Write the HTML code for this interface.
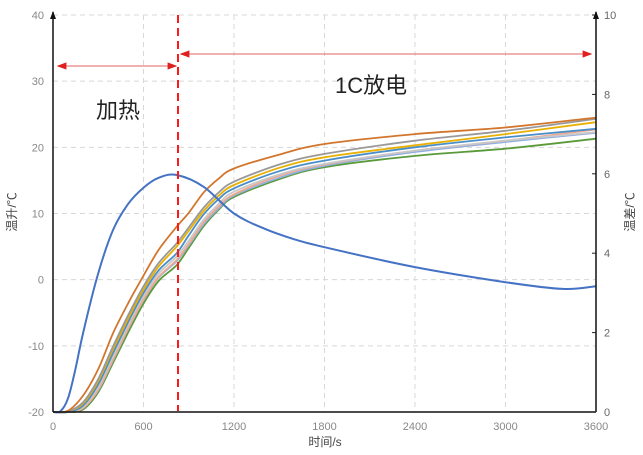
<!DOCTYPE html>
<html><head><meta charset="utf-8">
<style>
html,body{margin:0;padding:0;background:#fff;}
svg{display:block;font-family:"Liberation Sans","Noto Sans CJK SC",sans-serif;}
</style></head>
<body>
<svg id="chart" width="643" height="455" viewBox="0 0 643 455">
<defs>
<marker id="arr" markerWidth="8" markerHeight="8" refX="7" refY="4" orient="auto-start-reverse"><path d="M0,1 L8,4 L0,7 z" fill="#e02020"/></marker>
</defs>
<g id="grid"></g>
<g id="series"></g>
<g id="axes"></g>
<line x1="178" y1="15" x2="178" y2="411" stroke="#ff1a1a" stroke-width="2" stroke-dasharray="8,5"/>
<line x1="58" y1="66" x2="176" y2="66" stroke="#e88080" stroke-width="1.2" marker-start="url(#arr)" marker-end="url(#arr)"/>
<line x1="181" y1="54" x2="591" y2="54" stroke="#e88080" stroke-width="1.2" marker-start="url(#arr)" marker-end="url(#arr)"/>
<text x="96" y="118" font-size="22" fill="#222">加热</text>
<text x="335" y="93" font-size="22" fill="#222">1C放电</text>
<text transform="translate(16,212) rotate(-90)" text-anchor="middle" font-size="12" fill="#444">温升/℃</text>
<text transform="translate(634,212) rotate(-90)" text-anchor="middle" font-size="12" fill="#444">温差/℃</text>
<text x="325" y="446" text-anchor="middle" font-size="12" fill="#444">时间/s</text>
</svg>
<script>
const times=[0,100,200,300,400,500,600,700,820,900,1000,1100,1200,1500,1800,2400,3000,3600];
const orange=[-20,-19.8,-17.5,-13.5,-8,-3.5,0.6,4.5,8,10.1,13.2,15.3,16.8,18.9,20.5,22,23,24.5];
const gray=[-20,-19.9,-18.5,-15,-10,-5.3,-1,2.5,5.5,7.9,10.9,13.2,14.8,17.4,19,21,22.5,24.3];
const yellow=[-20,-19.9,-18.7,-15.3,-10.4,-5.8,-1.5,2,5,7.4,10.4,12.7,14.3,16.9,18.5,20.3,22,23.8];
const steel=[-20,-20,-19,-15.8,-11,-6.3,-2,1.4,4,6.7,9.9,12.2,13.8,16.4,18,20,21.5,22.8];
const lightgray=[-20,-20,-19.2,-16.2,-11.5,-6.8,-2.5,0.9,3.5,5.9,9.1,11.5,13.3,15.9,17.5,19.5,21,22.3];
const salmon=[-20,-20,-19.4,-16.6,-12,-7.3,-3,0.4,3,5.4,8.7,11.1,12.9,15.7,17.4,19.5,21,22.7];
const lightblue=[-20,-20,-19.4,-16.7,-12.1,-7.4,-3.1,0.3,2.8,5.2,8.4,10.8,12.7,15.4,17.2,19.3,20.8,22.2];
const green=[-20,-20,-19.6,-17,-12.5,-7.9,-3.6,-0.2,2.2,4.8,8.1,10.6,12.5,15.2,17,18.7,19.8,21.3];
const diffTimes=[0,50,100,150,200,300,400,500,600,700,820,1000,1200,1400,1600,1800,2400,3000,3380,3600];
const diffVals=[0,0.02,0.35,1.1,2.0,3.5,4.6,5.25,5.65,5.9,5.97,5.67,5.0,4.62,4.35,4.15,3.65,3.27,3.1,3.17];
const xTicks=[0,600,1200,1800,2400,3000,3600];
const yTicks=[-20,-10,0,10,20,30,40];
const y2Ticks=[0,2,4,6,8,10];
const X0=53,X1=596,Y0=412,Y1=15;
const xs=t=>X0+(t/3600)*(X1-X0);
const ys=v=>Y0-((v+20)/60)*(Y0-Y1);
const ys2=v=>Y0-(v/10)*(Y0-Y1);
const NS="http://www.w3.org/2000/svg";
function mk(tag,attrs,parent){const e=document.createElementNS(NS,tag);for(const k in attrs)e.setAttribute(k,attrs[k]);parent.appendChild(e);return e;}
const grid=document.getElementById('grid'),axes=document.getElementById('axes'),ser=document.getElementById('series');
xTicks.forEach(t=>{if(t>0&&t<3600){const l=mk('line',{x1:xs(t),x2:xs(t),y1:Y1,y2:Y0,stroke:'#d8d8d8','stroke-dasharray':'5,4'},grid);

}
const tx=mk('text',{x:xs(t),y:430,'text-anchor':'middle','font-size':11,fill:'#888'},axes);tx.textContent=t;

});
yTicks.forEach(v=>{if(v>-20){const l=mk('line',{x1:X0,x2:X1,y1:ys(v),y2:ys(v),stroke:'#d8d8d8','stroke-dasharray':'5,4'},grid);

}
const tx=mk('text',{x:44,y:ys(v)+4,'text-anchor':'end','font-size':11,fill:'#888'},axes);tx.textContent=v;

});
y2Ticks.forEach(v=>{mk('line',{x1:X1-4,x2:X1,y1:ys2(v),y2:ys2(v),stroke:'#222'},axes);
const tx=mk('text',{x:604,y:ys2(v)+4,'font-size':11,fill:'#666'},axes);tx.textContent=v;

});
const la=mk('line',{x1:X0,x2:X0,y1:Y0,y2:Y1-3,stroke:'#111','stroke-width':1.5},axes);


mk('path',{d:`M${X0-3},${Y1+4} L${X0},${Y1-4} L${X0+3},${Y1+4}z`,fill:'#111'},axes);
const ra=mk('line',{x1:X1,x2:X1,y1:Y0,y2:Y1-3,stroke:'#111','stroke-width':1.5},axes);


mk('path',{d:`M${X1-3},${Y1+4} L${X1},${Y1-4} L${X1+3},${Y1+4}z`,fill:'#111'},axes);
const ba=mk('line',{x1:X0,x2:X1,y1:Y0,y2:Y0,stroke:'#111','stroke-width':1.5},axes);


function smooth(pts){let d=`M${pts[0][0]},${pts[0][1]}`;for(let i=0;i<pts.length-1;i++){const p0=pts[i-1]||pts[i],p1=pts[i],p2=pts[i+1],p3=pts[i+2]||p2;
const c1=[p1[0]+(p2[0]-p0[0])/6,p1[1]+(p2[1]-p0[1])/6],c2=[p2[0]-(p3[0]-p1[0])/6,p2[1]-(p3[1]-p1[1])/6];
d+=` C${c1[0].toFixed(1)},${c1[1].toFixed(1)} ${c2[0].toFixed(1)},${c2[1].toFixed(1)} ${p2[0].toFixed(1)},${p2[1].toFixed(1)}`;}return d;}
const list=[[green,'#5a9a3a','series-green'],[lightblue,'#8fb0e0','series-light-blue'],[salmon,'#f0a890','series-salmon'],[lightgray,'#c8c8c8','series-light-gray'],[steel,'#4a8ec8','series-steel-blue'],[yellow,'#e8b000','series-yellow'],[gray,'#999999','series-gray'],[orange,'#d2762e','series-orange']];
list.forEach(([vals,col,name])=>{const p=mk('path',{d:smooth(times.map((t,i)=>[xs(t),ys(vals[i])])),fill:'none',stroke:col,'stroke-width':1.8},ser);

});
const dp=mk('path',{d:smooth(diffTimes.map((t,i)=>[xs(t),ys2(diffVals[i])])),fill:'none',stroke:'#4472c4','stroke-width':2},ser);


</script>
</body></html>
